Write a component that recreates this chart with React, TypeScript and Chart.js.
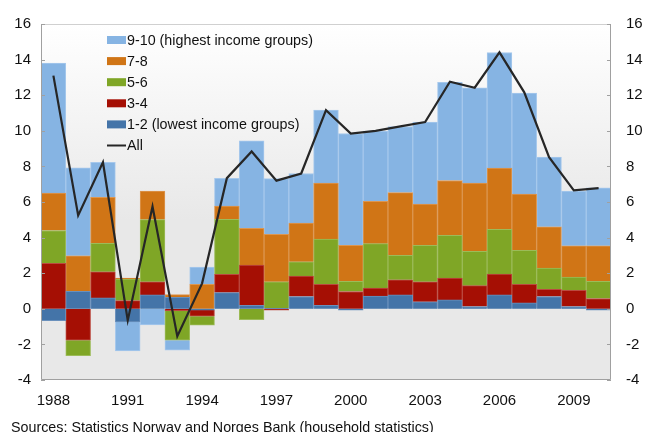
import React, { useEffect, useRef } from 'react';
import { Chart, registerables } from 'chart.js';

Chart.register(...registerables);

const years = ['1988','1989','1990','1991','1992','1993','1994','1995','1996','1997','1998','1999','2000','2001','2002','2003','2004','2005','2006','2007','2008','2009','2010'];
const g12 = [-0.67, 0.98, 0.61, -0.74, 0.78, 0.65, -0.07, 0.91, 0.19, 0.03, 0.69, 0.19, -0.07, 0.72, 0.78, 0.39, 0.50, 0.13, 0.78, 0.33, 0.69, 0.13, -0.07];
const g34 = [2.56, -1.76, 1.47, 0.46, 0.74, -0.11, -0.35, 1.02, 2.27, -0.08, 1.15, 1.19, 0.97, 0.45, 0.85, 1.13, 1.23, 1.17, 1.17, 1.04, 0.41, 0.91, 0.58];
const g56 = [1.84, -0.87, 1.60, 1.21, 3.49, -1.65, -0.50, 3.10, -0.61, 1.49, 0.80, 2.54, 0.58, 2.49, 1.37, 2.04, 2.40, 1.93, 2.51, 1.91, 1.19, 0.74, 0.97];
const g78 = [2.10, 2.00, 2.58, 0.06, 1.60, 0.15, 1.37, 0.74, 2.06, 2.67, 2.17, 3.14, 2.02, 2.38, 3.53, 2.32, 3.08, 3.83, 3.44, 3.16, 2.32, 1.76, 1.99];
const g910 = [7.30, 4.94, 1.97, -1.62, -0.91, -0.56, 0.98, 1.56, 4.92, 3.12, 2.79, 4.10, 6.28, 3.95, 3.71, 4.61, 5.52, 5.35, 6.50, 5.68, 3.92, 3.08, 3.25];
const allGroups = [13.1, 5.25, 8.23, -0.65, 5.75, -1.54, 1.43, 7.34, 8.84, 7.2, 7.6, 11.16, 9.84, 10.0, 10.25, 10.49, 12.76, 12.42, 14.41, 12.16, 8.52, 6.65, 6.78];

const yMin = -4;
const yMax = 16;
const yStep = 2;
const tickYears = ['1988', '1991', '1994', '1997', '2000', '2003', '2006', '2009'];
const sourceText = 'Sources: Statistics Norway and Norges Bank (household statistics)';

const FONT = '"Liberation Sans", Arial, Helvetica, sans-serif';

const bgPlugin = {
  id: 'bgGradient',
  beforeDatasetsDraw(chart: any) {
    const { ctx, chartArea } = chart;
    const { left, top, right, bottom } = chartArea;
    const grad = ctx.createLinearGradient(0, top, 0, bottom);
    grad.addColorStop(0, '#ffffff');
    grad.addColorStop(0.55, '#e8e8e8');
    grad.addColorStop(1, '#e8e8e8');
    ctx.save();
    ctx.fillStyle = grad;
    ctx.fillRect(left, top, right - left, bottom - top);
    ctx.restore();
  },
};

const framePlugin = {
  id: 'frameLegend',
  afterDatasetsDraw(chart: any) {
    const { ctx, chartArea } = chart;
    const { left, top, right, bottom } = chartArea;
    ctx.save();
    ctx.lineWidth = 1;
    ctx.strokeStyle = '#d0d0d0';
    ctx.beginPath();
    ctx.moveTo(left, top + 0.5);
    ctx.lineTo(right, top + 0.5);
    ctx.stroke();
    ctx.strokeStyle = '#a0a0a0';
    ctx.beginPath();
    ctx.moveTo(left + 0.5, top);
    ctx.lineTo(left + 0.5, bottom - 0.5);
    ctx.lineTo(right - 0.5, bottom - 0.5);
    ctx.lineTo(right - 0.5, top);
    ctx.stroke();
    const ys = chart.scales.y;
    for (let v = yMin; v <= yMax; v += yStep) {
      const py = Math.round(ys.getPixelForValue(v)) + 0.5;
      ctx.beginPath();
      ctx.moveTo(left, py);
      ctx.lineTo(left + 4, py);
      ctx.moveTo(right - 4, py);
      ctx.lineTo(right, py);
      ctx.stroke();
    }
    const items = [4, 3, 2, 1, 0, 5];
    const x0 = 107;
    let y = 40;
    ctx.font = '14.3px ' + FONT;
    ctx.textBaseline = 'middle';
    ctx.textAlign = 'left';
    items.forEach((i) => {
      const ds = chart.data.datasets[i];
      if (ds.type === 'line') {
        ctx.strokeStyle = ds.borderColor;
        ctx.lineWidth = 2;
        ctx.beginPath();
        ctx.moveTo(x0, y);
        ctx.lineTo(x0 + 19, y);
        ctx.stroke();
      } else {
        ctx.fillStyle = ds.backgroundColor;
        ctx.fillRect(x0, y - 4, 19, 8);
      }
      ctx.fillStyle = '#111111';
      ctx.fillText(ds.label, x0 + 20, y + 1);
      y += 21.1;
    });
    ctx.restore();
  },
  afterDraw(chart: any) {
    const { ctx } = chart;
    ctx.save();
    ctx.font = '14.3px ' + FONT;
    ctx.fillStyle = '#111111';
    ctx.textBaseline = 'alphabetic';
    ctx.textAlign = 'left';
    ctx.fillText(sourceText, 11, 431.5);
    ctx.restore();
  },
};

export default function App() {
  const ref = useRef<HTMLCanvasElement | null>(null);
  useEffect(() => {
    if (!ref.current) return;
    const barDs = (label: string, data: number[], color: string, border: string) => ({
      type: 'bar' as const,
      label,
      data,
      backgroundColor: color,
      borderColor: border,
      borderWidth: 1,
      barPercentage: 1,
      categoryPercentage: 1,
      stack: 'groups',
      yAxisID: 'y',
      order: 2,
    });
    const chart = new Chart(ref.current, {
      type: 'bar',
      data: {
        labels: years,
        datasets: [
          barDs('1-2 (lowest income groups)', g12, '#4474a8', '#6a90bc'),
          barDs('3-4', g34, '#a50f04', '#bb4a40'),
          barDs('5-6', g56, '#7fa626', '#9cbb58'),
          barDs('7-8', g78, '#d07516', '#dc9650'),
          barDs('9-10 (highest income groups)', g910, '#86b4e3', '#a6c8ec'),
          {
            type: 'line' as const,
            label: 'All',
            data: allGroups,
            borderColor: '#262626',
            backgroundColor: '#262626',
            borderWidth: 2.2,
            pointRadius: 0,
            tension: 0,
            stack: 'all',
            yAxisID: 'y',
            order: 0,
          } as any,
        ],
      },
      options: {
        responsive: false,
        animation: false,
        events: [],
        layout: { padding: { top: 21, left: 0, right: 0, bottom: 0 } },
        plugins: { legend: { display: false }, tooltip: { enabled: false } },
        scales: {
          x: {
            stacked: true,
            grid: { display: false, drawTicks: false },
            border: { display: false },
            ticks: {
              autoSkip: false,
              maxRotation: 0,
              padding: 12,
              color: '#111111',
              font: { family: FONT, size: 15 },
              callback: function (this: any, _v: any, i: number) {
                const lab = years[i];
                return tickYears.includes(lab) ? lab : '';
              },
            },
            afterFit: (s: any) => { s.height = 52; },
          },
          y: {
            stacked: true,
            position: 'left',
            min: yMin,
            max: yMax,
            grid: { display: false, drawTicks: false },
            border: { display: false },
            ticks: { stepSize: yStep, padding: 10, color: '#111111', font: { family: FONT, size: 15 } },
            afterFit: (s: any) => { s.width = 41; },
          },
          y2: {
            position: 'right',
            min: yMin,
            max: yMax,
            grid: { display: false, drawTicks: false },
            border: { display: false },
            ticks: { stepSize: yStep, padding: 15, color: '#111111', font: { family: FONT, size: 15 } },
            afterFit: (s: any) => { s.width = 34; },
          },
        },
      },
      plugins: [bgPlugin, framePlugin],
    });
    return () => chart.destroy();
  }, []);
  return (
    <div style={{ position: 'fixed', left: 0, top: 0, width: 645, height: 432, background: '#ffffff' }}>
      <canvas ref={ref} width={645} height={432} style={{ display: 'block' }} />
    </div>
  );
}
